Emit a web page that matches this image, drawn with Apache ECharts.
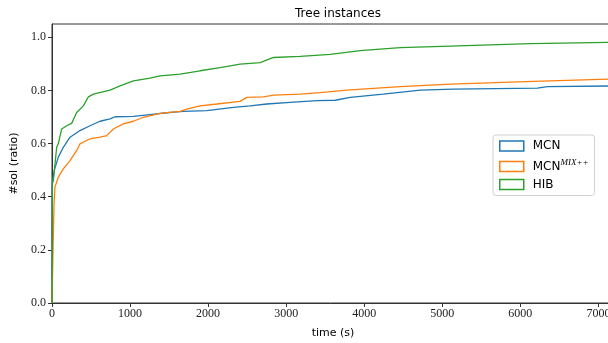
<!DOCTYPE html>
<html lang="en" style="height: 100%">

<head>
  <meta charset="utf-8">
</head>

<body style="height: 100%; margin: 0; background: #fff">
  <div id="container" style="width: 608px; height: 343px"></div>

  <script type="text/javascript" src="https://cdn.jsdelivr.net/npm/echarts@6/dist/echarts.min.js"></script>

  <script type="text/javascript">
    // data
    var timeMCN = [0, 3, 30, 81, 145, 231, 359, 487, 615, 744, 808, 1043, 1256, 1470, 1684, 1983, 2325, 2538, 2752, 3051, 3393, 3628, 3821, 4244, 4718, 5141, 6218, 6346, 7200];
    var ratioMCN = [0, 0.45, 0.50, 0.549, 0.586, 0.624, 0.649, 0.667, 0.684, 0.693, 0.701, 0.702, 0.709, 0.716, 0.721, 0.724, 0.736, 0.742, 0.749, 0.755, 0.762, 0.763, 0.774, 0.786, 0.801, 0.805, 0.809, 0.814, 0.817];

    var timeMIX = [0, 17, 26, 38, 81, 145, 231, 317, 359, 487, 615, 701, 786, 914, 1043, 1171, 1385, 1641, 1726, 1897, 2111, 2410, 2496, 2709, 2838, 3179, 3436, 3778, 4462, 5103, 6171, 7200];
    var ratioMIX = [0, 0.249, 0.374, 0.436, 0.474, 0.505, 0.536, 0.574, 0.599, 0.618, 0.624, 0.630, 0.655, 0.674, 0.684, 0.699, 0.714, 0.721, 0.730, 0.742, 0.749, 0.759, 0.774, 0.776, 0.782, 0.786, 0.792, 0.801, 0.814, 0.824, 0.834, 0.843];

    var timeHIB = [0, 5, 17, 60, 81, 124, 188, 252, 316, 402, 466, 530, 744, 872, 1043, 1256, 1385, 1641, 1897, 2154, 2410, 2667, 2838, 3179, 3564, 3949, 4462, 5103, 6128, 7200];
    var ratioHIB = [0, 0.45, 0.46, 0.586, 0.60, 0.655, 0.667, 0.676, 0.717, 0.742, 0.776, 0.786, 0.801, 0.817, 0.836, 0.846, 0.855, 0.861, 0.874, 0.886, 0.899, 0.905, 0.924, 0.928, 0.936, 0.950, 0.961, 0.967, 0.976, 0.981];

    var yTicks = [0, 0.2, 0.4, 0.6, 0.8, 1.0];
    var colors = ['#1f77b4', '#ff7f0e', '#2ca02c'];

    function pairs(ts, vs) {
      return ts.map(function (t, i) { return [t, vs[i]]; });
    }

    var dom = document.getElementById('container');
    var myChart = echarts.init(dom, null, { renderer: 'canvas' });

    var serif = 'Liberation Serif';
    var sans = 'DejaVu Sans';

    var option = {
      animation: false,
      title: {
        text: 'Tree instances',
        left: 333,
        top: 3,
        textAlign: 'center',
        textStyle: { fontFamily: sans, fontSize: 12, fontWeight: 'normal', color: '#000' }
      },
      grid: {
        left: 52,
        top: 24,
        bottom: 40,
        right: -6,
        outerBoundsMode: 'none',
        containLabel: false,
        show: true,
        borderColor: '#333',
        borderWidth: 1
      },
      legend: {
        orient: 'vertical',
        left: 493,
        top: 135,
        icon: 'rect',
        itemWidth: 24,
        itemHeight: 10,
        itemGap: 6,
        padding: [5, 6, 5, 6],
        backgroundColor: 'rgba(255,255,255,0.8)',
        borderColor: '#d0d0d0',
        borderWidth: 1,
        borderRadius: 3,
        textStyle: {
          fontFamily: sans,
          fontSize: 12,
          color: '#000',
          padding: [0, 0, 0, 4],
          rich: {
            sup: { fontFamily: serif, fontStyle: 'italic', fontSize: 9, padding: [0, 0, 8, 0] }
          }
        },
        formatter: function (name) {
          if (name === 'MCN_MIX') return 'MCN{sup|MIX++}';
          return name;
        },
        data: [
          { name: 'MCN', itemStyle: { color: 'rgba(0,0,0,0)', borderColor: colors[0], borderWidth: 1.5 } },
          { name: 'MCN_MIX', itemStyle: { color: 'rgba(0,0,0,0)', borderColor: colors[1], borderWidth: 1.5 } },
          { name: 'HIB', itemStyle: { color: 'rgba(0,0,0,0)', borderColor: colors[2], borderWidth: 1.5 } }
        ]
      },
      xAxis: {
        type: 'value',
        min: 0,
        max: 7200,
        interval: 1000,
        name: 'time (s)',
        nameLocation: 'middle',
        nameGap: 25,
        nameTextStyle: { fontFamily: sans, fontSize: 11, color: '#000' },
        splitLine: { show: false },
        axisLine: { lineStyle: { color: '#333', width: 1 } },
        axisTick: { inside: false, length: 4, lineStyle: { color: '#333' } },
        axisLabel: {
          showMaxLabel: false, fontFamily: serif, fontSize: 12, color: '#222', margin: 5,
          formatter: function (v) { return String(v); }
        }
      },
      yAxis: {
        type: 'value',
        min: 0,
        max: 1.05,
        interval: 0.2,
        name: '#sol (ratio)',
        nameLocation: 'middle',
        nameGap: 31,
        nameTextStyle: { fontFamily: sans, fontSize: 11, color: '#000' },
        splitLine: { show: false },
        axisLine: { lineStyle: { color: '#333', width: 1 } },
        axisTick: { length: 4, lineStyle: { color: '#333' }, customValues: yTicks },
        axisLabel: {
          fontFamily: serif, fontSize: 12, color: '#222', margin: 6,
          customValues: yTicks,
          formatter: function (v) { return v.toFixed(1); }
        }
      },
      series: [
        {
          name: 'MCN', type: 'line', data: pairs(timeMCN, ratioMCN), showSymbol: false,
          color: colors[0], lineStyle: { width: 1.3 }
        },
        {
          name: 'MCN_MIX', type: 'line', data: pairs(timeMIX, ratioMIX), showSymbol: false,
          color: colors[1], lineStyle: { width: 1.3 }
        },
        {
          name: 'HIB', type: 'line', data: pairs(timeHIB, ratioHIB), showSymbol: false,
          color: colors[2], lineStyle: { width: 1.3 }
        }
      ]
    };

    myChart.setOption(option);
    window.addEventListener('resize', myChart.resize);
  </script>
</body>

</html>
